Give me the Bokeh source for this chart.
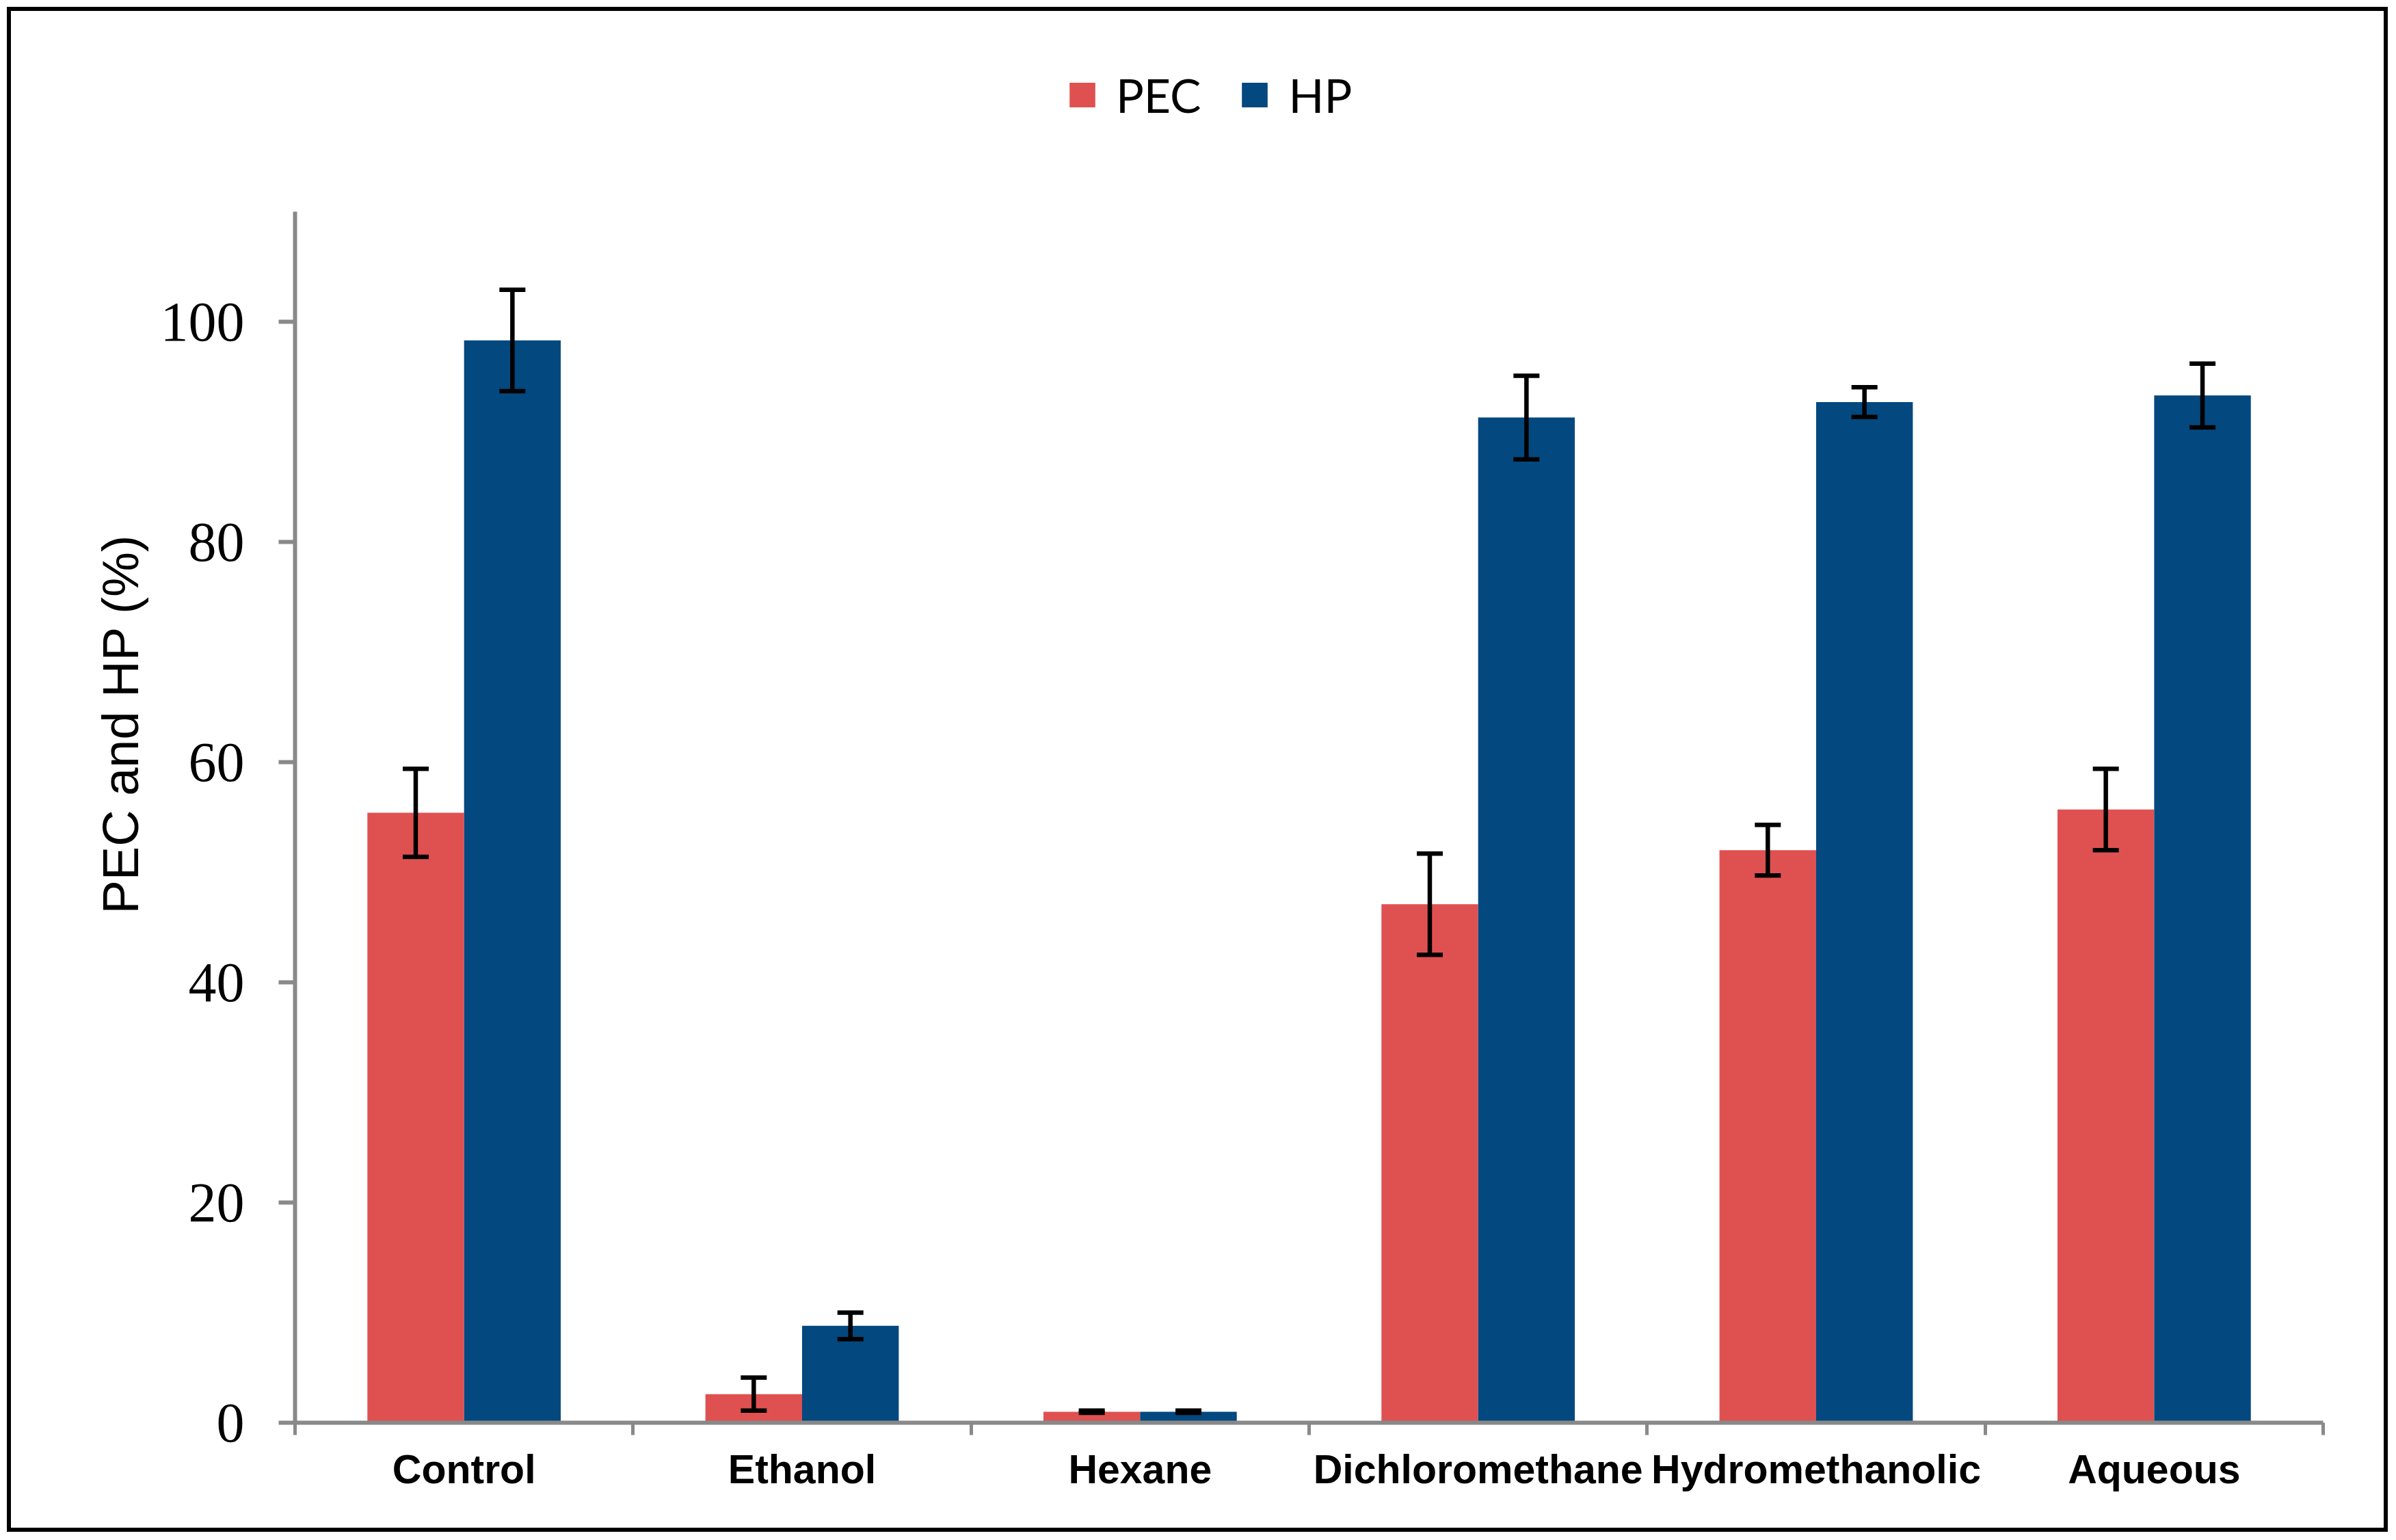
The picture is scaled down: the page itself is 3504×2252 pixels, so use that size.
from bokeh.plotting import figure
from bokeh.models import (ColumnDataSource, Range1d, LinearAxis,
                          FixedTicker, Whisker, TeeHead, Legend, LegendItem, Title)
from bokeh.transform import dodge
from bokeh.embed import file_html
from bokeh.resources import INLINE

categories = ["Control", "Ethanol", "Hexane", "Dichloromethane", "Hydromethanolic", "Aqueous"]
pec = [55.4, 2.6, 1.0, 47.1, 52.0, 55.7]
pec_err = [4.0, 1.5, 0.1, 4.6, 2.3, 3.7]
hp = [98.3, 8.8, 1.0, 91.3, 92.7, 93.3]
hp_err = [4.6, 1.2, 0.1, 3.8, 1.35, 2.9]
y_ticks = [0, 20, 40, 60, 80, 100]
y_max = 110
series_names = ["PEC", "HP"]
y_label = "PEC and HP (%)"

PEC_COLOR = "#DF5150"
HP_COLOR = "#03487F"
AXIS_GRAY = "#898989"

n = len(categories)
centers = [i + 0.5 for i in range(n)]
bounds = list(range(n + 1))

src = ColumnDataSource(dict(
    xc=centers,
    pec=pec,
    hp=hp,
    pec_upper=[v + e for v, e in zip(pec, pec_err)],
    pec_lower=[v - e for v, e in zip(pec, pec_err)],
    hp_upper=[v + e for v, e in zip(hp, hp_err)],
    hp_lower=[v - e for v, e in zip(hp, hp_err)],
))

# page geometry (px)
W, H = 3502, 2250
FRAME_LEFT, FRAME_RIGHT, FRAME_BOTTOM = 431, 3397, 2080
AXIS_TOP = 309          # where the value y_max sits
FRAME_TOP = 68          # frame extended upward to host the legend
y_end = y_max * (FRAME_BOTTOM - FRAME_TOP) / (FRAME_BOTTOM - AXIS_TOP)

p = figure(
    width=W, height=H,
    x_range=Range1d(0, n),
    y_range=Range1d(0, y_end),
    x_axis_location=None,
    output_backend="svg", toolbar_location=None,
    min_border_left=FRAME_LEFT, min_border_right=W - FRAME_RIGHT,
    min_border_top=FRAME_TOP, min_border_bottom=H - FRAME_BOTTOM,
    border_fill_color=None, background_fill_color=None,
)
p.outline_line_color = None
p.xgrid.grid_line_color = None
p.ygrid.grid_line_color = None
p.styles = {"outline": "6px solid black", "outline-offset": "-16px"}

bw = 0.286
off = bw / 2
r_pec = p.vbar(x=dodge("xc", -off), top="pec", width=bw, source=src,
               fill_color=PEC_COLOR, line_color=None)
r_hp = p.vbar(x=dodge("xc", off), top="hp", width=bw, source=src,
              fill_color=HP_COLOR, line_color=None)

for shift, up, lo in [(-off, "pec_upper", "pec_lower"), (off, "hp_upper", "hp_lower")]:
    w = Whisker(base=dodge("xc", shift), upper=up, lower=lo, source=src, level="overlay",
                line_color="black", line_width=6.5,
                upper_head=TeeHead(size=38, line_width=6.5, line_color="black"),
                lower_head=TeeHead(size=38, line_width=6.5, line_color="black"))
    p.add_layout(w)

# y axis
ya = p.yaxis[0]
ya.bounds = (0, y_max)
ya.ticker = FixedTicker(ticks=y_ticks, minor_ticks=[])
ya.axis_line_color = AXIS_GRAY
ya.axis_line_width = 6
ya.major_tick_line_color = AXIS_GRAY
ya.major_tick_line_width = 6
ya.major_tick_out = 24
ya.major_tick_in = 0
ya.minor_tick_line_color = None
ya.major_label_text_font = "Liberation Serif"
ya.major_label_text_font_size = "82px"
ya.major_label_text_color = "black"
ya.major_label_standoff = 50

# x axis: labels at category centres (major), tick marks at category boundaries (minor)
xa = LinearAxis(ticker=FixedTicker(ticks=centers, minor_ticks=bounds),
                major_label_overrides={c: name for c, name in zip(centers, categories)})
xa.axis_line_color = AXIS_GRAY
xa.axis_line_width = 6
xa.major_tick_line_color = None
xa.major_tick_out = 0
xa.major_tick_in = 0
xa.minor_tick_line_color = AXIS_GRAY
xa.minor_tick_line_width = 5
xa.minor_tick_out = 18
xa.minor_tick_in = 0
xa.major_label_text_font = "Liberation Sans"
xa.major_label_text_font_style = "bold"
xa.major_label_text_font_size = "59px"
xa.major_label_text_color = "black"
xa.major_label_standoff = 17
p.add_layout(xa, "below")

# y axis title (positioned like the original, above frame centre of the value axis)
t = Title(text=y_label, align="left", offset=744, vertical_align="bottom", standoff=28,
          text_font="Liberation Sans", text_font_size="74px", text_font_style="normal",
          text_color="black")
p.add_layout(t, "left")

legend = Legend(
    items=[LegendItem(label=series_names[0], renderers=[r_pec]),
           LegendItem(label=series_names[1], renderers=[r_hp])],
    orientation="horizontal", location=(1128, 1901),
    label_text_font="Lato", label_text_font_size="68px", label_text_color="black",
    glyph_width=47, glyph_height=45, label_standoff=26, spacing=55,
    padding=0, margin=0, border_line_color=None, background_fill_alpha=0,
)
p.add_layout(legend)

open("out.html", "w").write(file_html(p, INLINE))
